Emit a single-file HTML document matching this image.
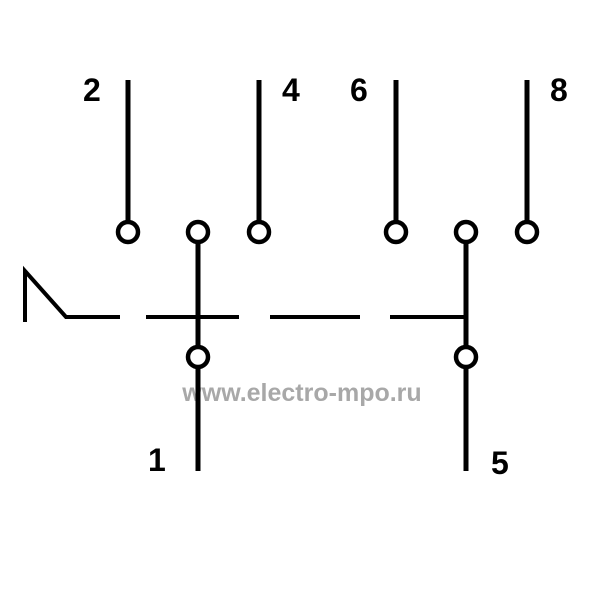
<!DOCTYPE html>
<html><head><meta charset="utf-8"><style>
html,body{margin:0;padding:0;background:#fff;}
svg{display:block}
</style></head><body>
<svg width="600" height="600" xmlns="http://www.w3.org/2000/svg">
<rect width="600" height="600" fill="#fff"/>
<text x="302" y="401" font-family="Liberation Sans, sans-serif" font-weight="bold" font-size="25" fill="#a8a8a8" text-anchor="middle">www.electro-mpo.ru</text>
<g stroke="#000" stroke-width="5" fill="none">
<line x1="128" y1="80" x2="128" y2="222"/>
<line x1="259" y1="80" x2="259" y2="222"/>
<line x1="396" y1="80" x2="396" y2="222"/>
<line x1="527" y1="80" x2="527" y2="222"/>
<line x1="198" y1="242" x2="198" y2="347"/>
<line x1="466" y1="242" x2="466" y2="347"/>
<line x1="198" y1="367" x2="198" y2="471"/>
<line x1="466" y1="367" x2="466" y2="471"/>
</g>
<g stroke="#000" stroke-width="4.5" fill="#fff">
<circle cx="128" cy="232" r="10"/>
<circle cx="198" cy="232" r="10"/>
<circle cx="259" cy="232" r="10"/>
<circle cx="396" cy="232" r="10"/>
<circle cx="466" cy="232" r="10"/>
<circle cx="527" cy="232" r="10"/>
<circle cx="198" cy="357" r="10"/>
<circle cx="466" cy="357" r="10"/>
</g>
<g stroke="#000" stroke-width="4" fill="none">
<polyline points="25,322 25,271 66,317 120,317"/>
<line x1="146" y1="317" x2="239" y2="317"/>
<line x1="270" y1="317" x2="360" y2="317"/>
<line x1="390" y1="317" x2="466" y2="317"/>
</g>
<g font-family="Liberation Sans, sans-serif" font-weight="bold" font-size="32" fill="#000">
<text x="83" y="101">2</text>
<text x="282" y="101">4</text>
<text x="350" y="101">6</text>
<text x="550" y="101">8</text>
<text x="148" y="471">1</text>
<text x="491" y="474">5</text>
</g>
</svg>
</body></html>
